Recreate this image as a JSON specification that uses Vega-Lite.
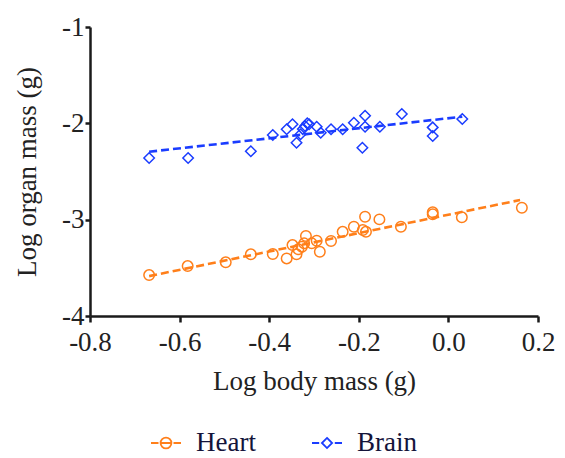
{
  "$schema": "https://vega.github.io/schema/vega-lite/v6.json",
  "width": 448,
  "height": 289,
  "autosize": "none",
  "padding": {"left": 90, "top": 27, "right": 27, "bottom": 142},
  "background": "white",
  "config": {
    "view": {"stroke": null},
    "axis": {
      "grid": false,
      "domainColor": "#1a1a1a",
      "domainWidth": 2.5,
      "tickColor": "#1a1a1a",
      "tickWidth": 2.5,
      "tickSize": 6,
      "labelFont": "Liberation Serif",
      "labelFontSize": 27,
      "labelColor": "#222222",
      "titleFont": "Liberation Serif",
      "titleFontSize": 27,
      "titleFontWeight": "normal",
      "titleColor": "#222222"
    },
    "legend": {
      "labelFont": "Liberation Serif",
      "labelFontSize": 27,
      "labelColor": "#14143a"
    }
  },
  "resolve": {"legend": {"shape": "independent", "color": "independent"}},
  "datasets": {
    "points": [
      {"organ": "Brain", "x": -0.668, "y": -2.36},
      {"organ": "Brain", "x": -0.581, "y": -2.36},
      {"organ": "Brain", "x": -0.441, "y": -2.29},
      {"organ": "Brain", "x": -0.392, "y": -2.121},
      {"organ": "Brain", "x": -0.361, "y": -2.062},
      {"organ": "Brain", "x": -0.348, "y": -2.01},
      {"organ": "Brain", "x": -0.339, "y": -2.201},
      {"organ": "Brain", "x": -0.33, "y": -2.114},
      {"organ": "Brain", "x": -0.325, "y": -2.06},
      {"organ": "Brain", "x": -0.32, "y": -2.028},
      {"organ": "Brain", "x": -0.315, "y": -2.0},
      {"organ": "Brain", "x": -0.311, "y": -2.01},
      {"organ": "Brain", "x": -0.294, "y": -2.035},
      {"organ": "Brain", "x": -0.285, "y": -2.098},
      {"organ": "Brain", "x": -0.262, "y": -2.062},
      {"organ": "Brain", "x": -0.236, "y": -2.062},
      {"organ": "Brain", "x": -0.211, "y": -1.994},
      {"organ": "Brain", "x": -0.186, "y": -1.921},
      {"organ": "Brain", "x": -0.186, "y": -2.035},
      {"organ": "Brain", "x": -0.192, "y": -2.253},
      {"organ": "Brain", "x": -0.153, "y": -2.035},
      {"organ": "Brain", "x": -0.104, "y": -1.903},
      {"organ": "Brain", "x": -0.035, "y": -2.042},
      {"organ": "Brain", "x": -0.035, "y": -2.132},
      {"organ": "Brain", "x": 0.031, "y": -1.955},
      {"organ": "Heart", "x": -0.668, "y": -3.575},
      {"organ": "Heart", "x": -0.582, "y": -3.482},
      {"organ": "Heart", "x": -0.497, "y": -3.443},
      {"organ": "Heart", "x": -0.441, "y": -3.36},
      {"organ": "Heart", "x": -0.392, "y": -3.357},
      {"organ": "Heart", "x": -0.361, "y": -3.402},
      {"organ": "Heart", "x": -0.348, "y": -3.264},
      {"organ": "Heart", "x": -0.339, "y": -3.36},
      {"organ": "Heart", "x": -0.335, "y": -3.308},
      {"organ": "Heart", "x": -0.327, "y": -3.281},
      {"organ": "Heart", "x": -0.318, "y": -3.17},
      {"organ": "Heart", "x": -0.322, "y": -3.246},
      {"organ": "Heart", "x": -0.305, "y": -3.246},
      {"organ": "Heart", "x": -0.294, "y": -3.219},
      {"organ": "Heart", "x": -0.287, "y": -3.333},
      {"organ": "Heart", "x": -0.262, "y": -3.222},
      {"organ": "Heart", "x": -0.236, "y": -3.126},
      {"organ": "Heart", "x": -0.211, "y": -3.074},
      {"organ": "Heart", "x": -0.186, "y": -2.97},
      {"organ": "Heart", "x": -0.191, "y": -3.108},
      {"organ": "Heart", "x": -0.184, "y": -3.126},
      {"organ": "Heart", "x": -0.154, "y": -2.997},
      {"organ": "Heart", "x": -0.106, "y": -3.074},
      {"organ": "Heart", "x": -0.035, "y": -2.924},
      {"organ": "Heart", "x": -0.035, "y": -2.945},
      {"organ": "Heart", "x": 0.03, "y": -2.976},
      {"organ": "Heart", "x": 0.164, "y": -2.876}
    ],
    "fits": [
      {"organ": "Heart", "x": -0.668, "y": -3.586},
      {"organ": "Heart", "x": 0.16, "y": -2.796},
      {"organ": "Brain", "x": -0.668, "y": -2.295},
      {"organ": "Brain", "x": 0.031, "y": -1.931}
    ]
  },
  "encoding": {
    "x": {
      "field": "x",
      "type": "quantitative",
      "scale": {"domain": [-0.8, 0.2], "nice": false, "zero": false},
      "axis": {
        "title": "Log body mass (g)",
        "values": [-0.8, -0.6, -0.4, -0.2, 0.0, 0.2],
        "labelExpr": "replace(format(datum.value, '.1f'), '\u2212', '-')",
        "labelPadding": 7,
        "titlePadding": 13,
        "labelFlush": false
      }
    },
    "y": {
      "field": "y",
      "type": "quantitative",
      "scale": {"domain": [-4, -1], "nice": false, "zero": false},
      "axis": {
        "title": "Log organ mass (g)",
        "values": [-4, -3, -2, -1],
        "labelExpr": "replace(format(datum.value, 'd'), '\u2212', '-')",
        "tickSize": 5,
        "labelPadding": 1,
        "titlePadding": 20,
        "labelFlush": false
      }
    }
  },
  "layer": [
    {
      "data": {"name": "fits"},
      "mark": {"type": "line", "strokeWidth": 2.6, "strokeDash": [8, 4]},
      "encoding": {
        "color": {
          "field": "organ",
          "type": "nominal",
          "scale": {"domain": ["Heart", "Brain"], "range": ["#FF7F1A", "#1A3CFF"]},
          "legend": {
            "title": null,
            "orient": "none",
            "direction": "horizontal",
            "legendX": 60,
            "legendY": 400,
            "symbolType": "M-1,0L-0.5,0M0.5,0L1,0",
            "symbolSize": 900,
            "symbolStrokeWidth": 1.8,
            "symbolDash": [],
            "labelOffset": 14,
            "columnPadding": 52,
            "encode": {
              "symbols": {
                "update": {
                  "shape": {"signal": "datum.value === 'Heart' ? 'M-1,0L-0.5,0M-0.3,0L0.3,0M0.5,0L1,0M0.36,0A0.36,0.36,0,1,1,-0.36,0A0.36,0.36,0,1,1,0.36,0Z' : 'M-1,0L-0.52,0M0.52,0L1,0M0,-0.34L0.34,0L0,0.34L-0.34,0Z'"},
                  "fill": {"value": "transparent"}
                }
              }
            }
          }
        }
      }
    },
    {
      "data": {"name": "points"},
      "mark": {"type": "point", "filled": false, "strokeWidth": 1.5, "opacity": 1},
      "encoding": {
        "color": {
          "field": "organ",
          "type": "nominal",
          "legend": null
        },
        "shape": {
          "field": "organ",
          "type": "nominal",
          "scale": {"domain": ["Heart", "Brain"], "range": ["circle", "diamond"]},
          "legend": null
        },
        "size": {"value": 110}
      }
    }
  ]
}
